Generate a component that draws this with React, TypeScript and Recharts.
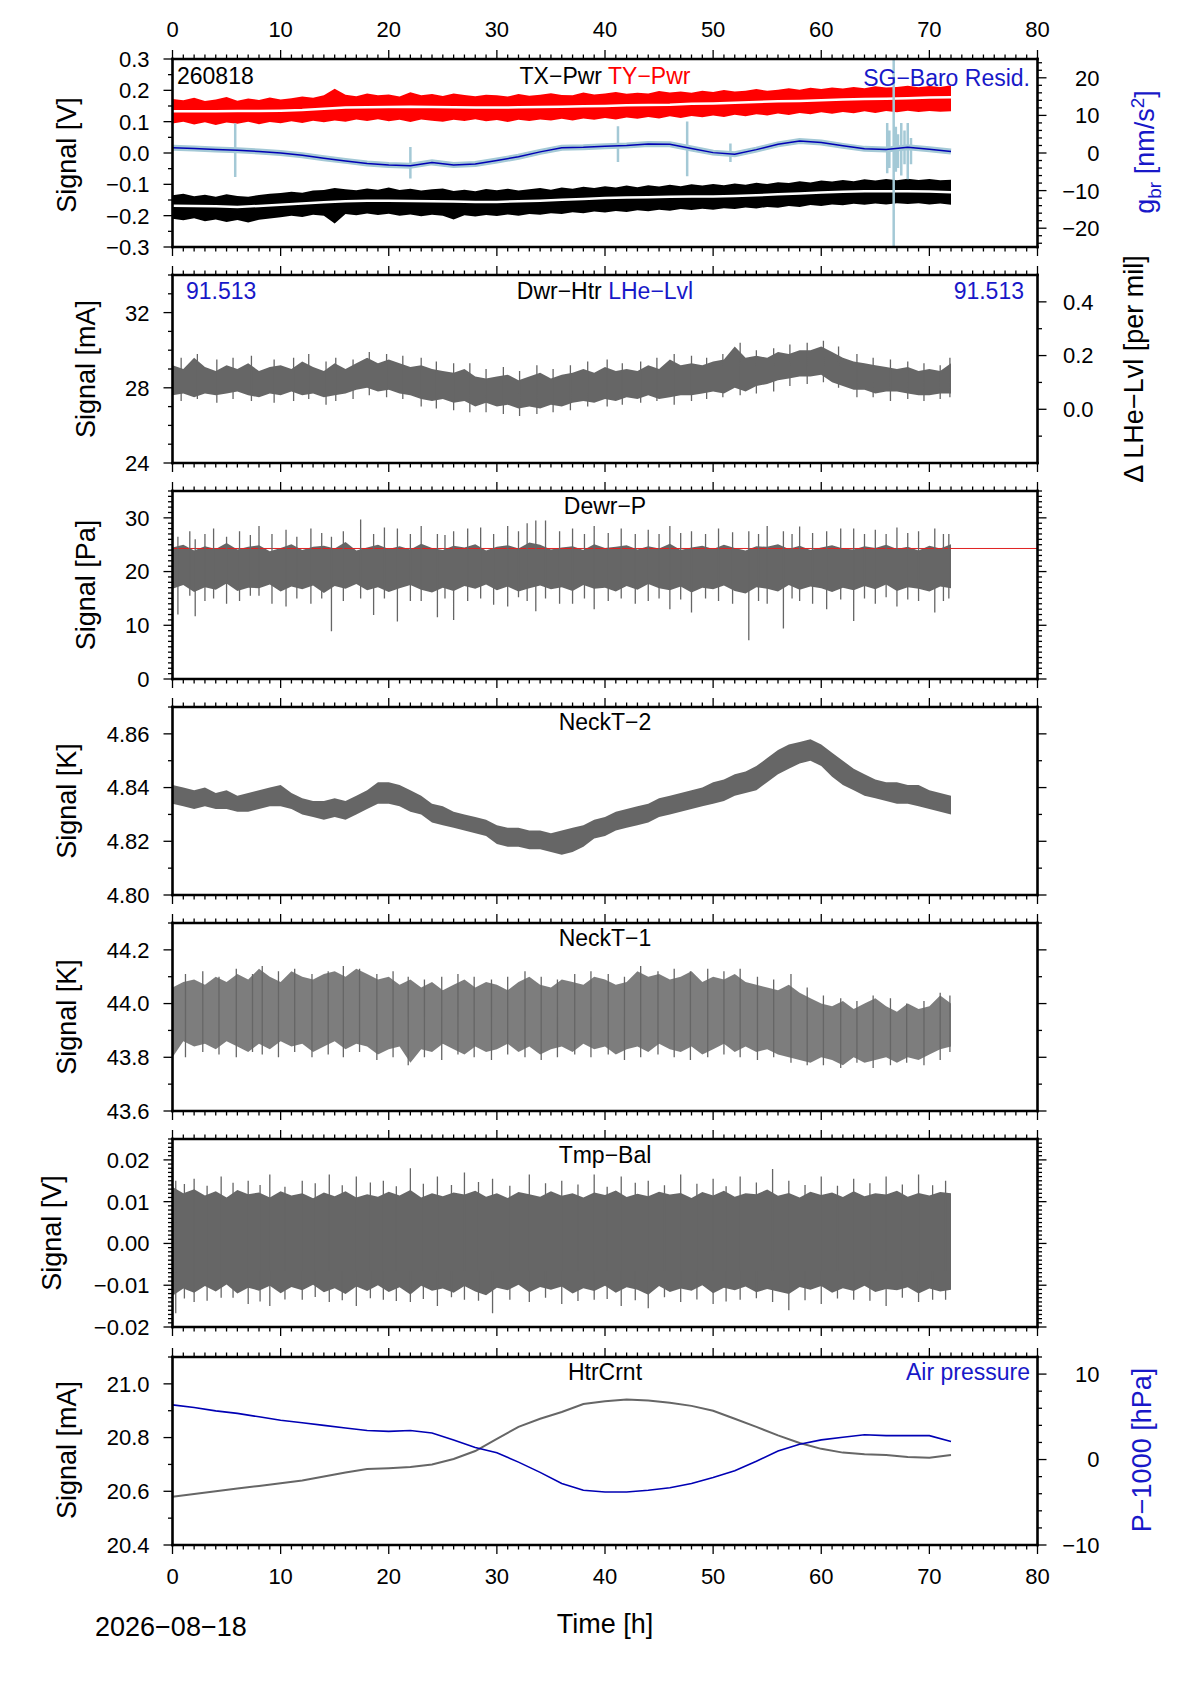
import React from 'react';
import { ComposedChart, Line, Area, XAxis, YAxis, ReferenceLine } from 'recharts';

const FONT = '"Liberation Sans", Arial, Helvetica, sans-serif';
const GRAY = '#666666';
const BLUE = '#0000b4';
const BLUE_TXT = '#1818c8';
const LIGHT_BLUE = '#a4c9d6';

// plot frame geometry (page pixels)
const PLOT_L = 172.5;
const PLOT_R = 1037.5;
const PANEL_H = 188;
const PANEL_TOPS = [59, 275, 491, 707, 923, 1139, 1356.7];

// sampling grid of the hourly / two-hourly series
const HOURS = Array.from({ length: 73 }, (_, i) => i);
const HOURS2 = Array.from({ length: 37 }, (_, i) => i * 2);

// ---- panel 1: TX-Pwr (black), TY-Pwr (red), SG-Baro residual (blue, right axis)
const tyPwrHi = [
  0.172, 0.168, 0.176, 0.166, 0.171, 0.179, 0.167, 0.174, 0.169, 0.177,
  0.171, 0.175, 0.18, 0.176, 0.184, 0.205, 0.186, 0.181, 0.19, 0.184,
  0.187, 0.18, 0.194, 0.184, 0.188, 0.182, 0.19, 0.185, 0.181, 0.186,
  0.184, 0.18, 0.188, 0.183, 0.186, 0.191, 0.185, 0.184, 0.193, 0.187,
  0.19, 0.195, 0.189, 0.192, 0.19, 0.198, 0.193, 0.196, 0.192, 0.199,
  0.195, 0.201, 0.196, 0.199, 0.204, 0.199, 0.202, 0.207, 0.202, 0.208,
  0.204, 0.209, 0.206, 0.211, 0.207, 0.213, 0.209, 0.211, 0.215, 0.21,
  0.214, 0.211, 0.216,
];
const tyPwrLo = [
  0.094, 0.1, 0.091, 0.098, 0.089, 0.097, 0.093, 0.1, 0.092, 0.099,
  0.095, 0.101, 0.096, 0.103, 0.098, 0.104, 0.1, 0.107, 0.102, 0.108,
  0.101, 0.106, 0.099, 0.107, 0.103, 0.1, 0.106, 0.102, 0.108, 0.101,
  0.105, 0.099, 0.106, 0.102, 0.107, 0.104, 0.109, 0.104, 0.11, 0.106,
  0.112, 0.107, 0.113, 0.109, 0.115, 0.11, 0.117, 0.112, 0.118, 0.114,
  0.12, 0.115, 0.122, 0.117, 0.124, 0.12, 0.126, 0.121, 0.128, 0.124,
  0.13, 0.125, 0.131, 0.127, 0.133, 0.128, 0.134, 0.13, 0.135, 0.131,
  0.134, 0.132, 0.133,
];
const tyPwrMean = [
  0.133, 0.133, 0.133, 0.134, 0.134, 0.135, 0.137, 0.141, 0.145, 0.146,
  0.147, 0.148, 0.147, 0.146, 0.145, 0.145, 0.146, 0.147, 0.148, 0.149,
  0.15, 0.152, 0.153, 0.154, 0.157, 0.158, 0.16, 0.163, 0.165, 0.166,
  0.168, 0.171, 0.172, 0.173, 0.175, 0.177, 0.178,
];
const txPwrHi = [
  -0.135, -0.13, -0.138, -0.133, -0.14, -0.132, -0.137, -0.14, -0.134, -0.13,
  -0.128, -0.124, -0.127, -0.12, -0.118, -0.112, -0.116, -0.119, -0.113, -0.117,
  -0.11, -0.118, -0.114, -0.12, -0.116, -0.113, -0.121, -0.117, -0.122, -0.115,
  -0.119, -0.114, -0.12, -0.116, -0.112, -0.117, -0.11, -0.114, -0.108, -0.112,
  -0.106, -0.11, -0.104, -0.109, -0.103, -0.107, -0.101, -0.106, -0.1, -0.104,
  -0.099, -0.103, -0.097, -0.101, -0.095, -0.099, -0.093, -0.096, -0.09, -0.094,
  -0.088, -0.091, -0.086, -0.09, -0.084, -0.088, -0.083, -0.087, -0.082, -0.086,
  -0.083, -0.087, -0.085,
];
const txPwrLo = [
  -0.21, -0.215, -0.208, -0.218, -0.212, -0.22, -0.214, -0.222, -0.213, -0.209,
  -0.205, -0.2, -0.204, -0.197, -0.2, -0.225, -0.195, -0.199, -0.193, -0.198,
  -0.194, -0.2, -0.196, -0.202, -0.197, -0.2, -0.212, -0.199, -0.203, -0.198,
  -0.201, -0.196, -0.2, -0.195, -0.197, -0.192, -0.195, -0.189, -0.192, -0.187,
  -0.19, -0.185, -0.188, -0.183, -0.186, -0.181, -0.184, -0.179, -0.182, -0.178,
  -0.181, -0.176, -0.179, -0.174, -0.177, -0.172, -0.175, -0.169, -0.172, -0.166,
  -0.169, -0.164, -0.167, -0.162, -0.165, -0.161, -0.164, -0.16, -0.163, -0.16,
  -0.164, -0.161, -0.165,
];
const txPwrMean = [
  -0.168, -0.169, -0.17, -0.172, -0.169, -0.165, -0.161, -0.157, -0.154, -0.152,
  -0.152, -0.153, -0.154, -0.155, -0.156, -0.156, -0.154, -0.152, -0.149, -0.147,
  -0.144, -0.142, -0.141, -0.14, -0.139, -0.139, -0.137, -0.135, -0.132, -0.129,
  -0.126, -0.124, -0.122, -0.122, -0.122, -0.123, -0.125,
];
const sgResid = [
  1.4, 1.2, 0.9, 0.7, 0.4, 0.0, -0.6, -1.4, -2.1, -2.8,
  -3.2, -3.4, -2.5, -3.2, -2.9, -2.0, -1.0, 0.3, 1.4, 1.5,
  1.8, 2.0, 2.4, 2.3, 1.2, 0.1, -0.3, 0.9, 2.3, 3.2,
  2.8, 1.9, 1.1, 0.9, 1.5, 1.0, 0.4,
];
const sgSpikeT = [5.8, 22, 41.2, 47.6, 51.6, 66.1, 66.3, 66.7, 66.9, 67.1, 67.4, 67.7, 68.0, 68.3];
const sgSpikeHi = [7.9, 1.6, 7.1, 8.4, 2.5, 8, 6, 26, 7, 5, 8, 6, 8, 4];
const sgSpikeLo = [-6.4, -6.8, -2.4, -6.2, -2.4, -5.4, -4, -26, -5, -4, -6, -3, -7, -3];

// ---- panel 2: Dwr-Htr
const dwrHtrHi = [
  29.2, 29.0, 29.6, 29.1, 28.9, 29.2, 29.0, 29.3, 28.9, 29.1,
  29.2, 29.0, 29.4, 29.1, 28.9, 29.3, 29.0, 29.3, 29.6, 29.3,
  29.5, 29.3, 29.1, 29.2, 29.0, 28.9, 28.8, 29.0, 28.6, 28.5,
  28.6, 28.7, 28.4, 28.6, 28.8, 28.5, 28.7, 28.8, 29.0, 28.8,
  29.1, 28.9, 29.0, 28.9, 29.2, 29.0, 29.5, 29.2, 29.3, 29.2,
  29.4, 29.5, 30.2, 29.6, 29.7, 29.6, 29.9, 29.8, 30.0, 30.0,
  30.2, 29.9, 29.6, 29.4, 29.3, 29.2, 29.1, 29.0, 29.1, 28.9,
  29.0, 28.9, 29.3,
];
const dwrHtrLo = [
  27.6, 27.7, 27.5, 27.7, 27.6, 27.7, 27.8, 27.6, 27.5, 27.7,
  27.6, 27.8, 27.6, 27.7, 27.5, 27.6, 27.7, 27.9, 28.0, 27.8,
  27.9, 27.7, 27.6, 27.4, 27.3, 27.4, 27.2, 27.3, 27.0, 27.2,
  27.0, 27.1, 26.9, 27.0, 26.9, 27.1, 27.0, 27.2, 27.3, 27.2,
  27.4, 27.3, 27.5, 27.4, 27.6, 27.4, 27.5, 27.6, 27.6, 27.7,
  27.8, 27.7, 28.0, 27.8, 28.1, 28.2, 28.4, 28.5, 28.6, 28.6,
  28.7, 28.3, 28.1, 27.9, 27.9, 27.7, 27.8, 27.8, 27.7, 27.6,
  27.6, 27.7, 27.7,
];
const dwrHtrSpikeT = [
  0.8, 2.3, 4.1, 5.6, 7.3, 9.4, 11.2, 12.6, 14.2, 15.1, 16.7, 18.2, 19.8, 21.3, 23.0, 24.4,
  26.0, 27.5, 29.0, 30.6, 32.1, 33.7, 35.2, 36.8, 38.4, 40.2, 41.6, 43.3, 44.8, 46.4,
  48.0, 49.4, 50.9, 52.5, 54.0, 55.6, 57.1, 58.7, 60.2, 61.6, 63.3, 64.8, 66.4, 68.0,
  69.5, 71.0, 71.9,
];
const dwrHtrSpikeHi = [
  29.6, 29.8, 29.5, 29.6, 29.7, 29.5, 29.6, 29.8, 29.4, 29.6, 29.5, 29.9, 29.8, 29.7, 29.6, 29.4,
  29.3, 29.3, 29.0, 29.1, 28.9, 29.2, 29.0, 29.2, 29.4, 29.5, 29.3, 29.4, 29.6, 29.8,
  29.7, 29.6, 29.8, 30.4, 30.0, 30.1, 30.3, 30.4, 30.5, 30.2, 29.8, 29.6, 29.5, 29.4,
  29.3, 29.2, 29.6,
];
const dwrHtrSpikeLo = [
  27.3, 27.4, 27.2, 27.4, 27.3, 27.2, 27.3, 27.4, 27.1, 27.3, 27.4, 27.6, 27.5, 27.4, 27.0, 26.9,
  26.8, 26.7, 26.7, 26.6, 26.5, 26.6, 26.7, 26.8, 27.0, 27.0, 27.1, 27.2, 27.3, 27.1,
  27.3, 27.4, 27.5, 27.6, 27.7, 27.8, 28.1, 28.2, 28.3, 28.0, 27.5, 27.5, 27.3, 27.4,
  27.3, 27.4, 27.5,
];

// ---- panel 3: Dewr-P
const dewrPLimit = 24.3;
const dewrPHi = [
  24.5, 25.0, 23.9, 24.7, 24.2, 25.3, 24.1, 24.6, 24.9, 23.8,
  24.4, 25.1, 24.0, 24.6, 24.8, 24.3, 25.5, 23.9, 24.5, 25.0,
  24.2, 24.7, 24.1, 25.2, 24.4, 24.0, 24.8, 24.5, 25.1, 23.9,
  24.6, 24.9, 24.3, 25.4, 25.0, 24.1, 24.5, 24.7, 24.0, 25.1,
  24.4, 24.6, 24.9, 24.1, 24.7, 24.3, 25.2, 24.0, 24.5, 24.8,
  24.2, 25.0, 24.4, 23.9, 24.7, 24.6, 25.1, 24.2, 24.8, 24.0,
  24.5, 24.9, 24.3, 24.1, 24.7, 24.4, 25.0, 24.2, 24.6, 23.9,
  24.8, 24.3, 25.1,
];
const dewrPLo = [
  16.8, 17.5, 16.2, 17.1, 16.6, 17.8, 16.4, 17.0, 16.9, 17.6,
  16.3, 17.2, 16.7, 17.4, 16.0, 17.3, 16.8, 17.7, 16.5, 17.1,
  16.2, 16.9, 17.5, 16.6, 16.1, 17.0, 16.4, 17.3, 16.8, 17.6,
  16.5, 17.2, 16.3, 16.9, 17.4, 16.7, 17.1, 16.4, 17.5, 16.8,
  17.0, 16.3, 17.3, 16.6, 17.7, 16.9, 16.5, 17.2, 16.1, 17.0,
  16.7, 17.4, 16.4, 15.9, 17.1, 16.8, 16.3, 17.5, 16.6, 17.2,
  16.9, 16.2, 17.0, 16.5, 17.3, 16.7, 17.6, 16.4, 17.1, 16.8,
  16.3, 17.2, 16.9,
];
const dewrPSpikeT = [
  0.5, 1.6, 2.1, 3.0, 3.8, 5.0, 6.2, 7.2, 8.0, 9.2, 10.5, 11.5, 12.8, 13.8, 14.7, 15.8,
  17.4, 18.6, 19.6, 20.8, 22.0, 23.0, 24.5, 25.2, 26.0, 27.3, 28.5, 29.7, 31.0, 32.0,
  32.8, 33.6, 34.5, 35.8, 37.0, 38.1, 39.0, 40.3, 41.5, 42.8, 44.0, 45.0, 46.0, 47.0,
  48.0, 49.3, 50.5, 51.8, 53.3, 54.2, 55.0, 56.5, 57.3, 58.0, 59.2, 60.5, 61.8, 63.0,
  64.0, 65.0, 66.0, 67.0, 68.0, 69.0, 70.5, 71.3, 71.8,
];
const dewrPSpikeHi = [
  26.5, 27.5, 26.0, 27.0, 28.0, 26.5, 27.5, 26.8, 28.5, 27.0, 27.8, 26.5, 28.0, 27.2, 26.5, 27.5,
  29.7, 27.0, 28.2, 28.0, 27.0, 28.5, 27.0, 26.8, 27.5, 28.0, 28.2, 27.0, 28.5, 27.5,
  29.0, 29.5, 29.5, 27.5, 28.0, 27.0, 28.5, 27.2, 28.0, 27.0, 27.8, 27.0, 28.5, 27.2,
  27.5, 27.0, 28.0, 27.3, 27.5, 27.0, 28.5, 27.5, 27.0, 28.4, 27.2, 27.5, 28.0, 28.0,
  27.0, 27.8, 27.0, 28.2, 27.2, 27.5, 28.0, 27.0, 27.0,
];
const dewrPSpikeLo = [
  12.0, 15.5, 11.7, 14.5, 15.0, 14.0, 14.5, 15.5, 15.5, 14.0, 13.5, 15.0, 14.0, 15.0, 8.9, 14.5,
  15.0, 11.9, 15.0, 10.7, 14.5, 14.5, 11.5, 15.0, 11.0, 14.5, 15.0, 13.8, 13.5, 15.2,
  14.5, 12.6, 15.0, 14.0, 14.0, 15.0, 13.0, 14.5, 15.0, 14.0, 14.5, 15.0, 13.0, 14.8,
  12.4, 15.0, 14.5, 14.0, 7.2, 14.5, 14.0, 9.4, 15.0, 14.5, 14.0, 13.0, 14.8, 10.8,
  15.0, 14.0, 15.2, 13.5, 14.8, 14.5, 12.4, 14.5, 15.0,
];

// ---- panel 4: NeckT-2
const neckT2Hi = [
  4.841, 4.840, 4.839, 4.840, 4.838, 4.839, 4.837, 4.838, 4.839, 4.840,
  4.841, 4.838, 4.836, 4.835, 4.835, 4.836, 4.835, 4.837, 4.839, 4.842,
  4.842, 4.841, 4.839, 4.837, 4.834, 4.833, 4.831, 4.830, 4.829, 4.828,
  4.826, 4.825, 4.825, 4.824, 4.824, 4.823, 4.824, 4.825, 4.826, 4.828,
  4.829, 4.831, 4.832, 4.833, 4.834, 4.836, 4.837, 4.838, 4.839, 4.840,
  4.842, 4.843, 4.845, 4.846, 4.848, 4.851, 4.854, 4.856, 4.857, 4.858,
  4.856, 4.853, 4.850, 4.847, 4.845, 4.843, 4.842, 4.842, 4.841, 4.841,
  4.839, 4.838, 4.837,
];
const neckT2Lo = [
  4.834, 4.833, 4.832, 4.833, 4.832, 4.832, 4.831, 4.831, 4.832, 4.833,
  4.833, 4.832, 4.830, 4.829, 4.828, 4.829, 4.828, 4.830, 4.832, 4.834,
  4.834, 4.833, 4.831, 4.830, 4.827, 4.826, 4.825, 4.824, 4.823, 4.822,
  4.819, 4.818, 4.818, 4.817, 4.817, 4.816, 4.815, 4.816, 4.818, 4.821,
  4.822, 4.824, 4.825, 4.826, 4.827, 4.829, 4.830, 4.831, 4.832, 4.833,
  4.834, 4.835, 4.837, 4.838, 4.839, 4.842, 4.845, 4.847, 4.849, 4.850,
  4.848, 4.844, 4.841, 4.839, 4.837, 4.836, 4.835, 4.834, 4.834, 4.833,
  4.832, 4.831, 4.830,
];

// ---- panel 5: NeckT-1
const neckT1Hi = [
  44.06, 44.08, 44.09, 44.07, 44.10, 44.08, 44.11, 44.09, 44.13, 44.10,
  44.08, 44.12, 44.10, 44.09, 44.11, 44.12, 44.10, 44.13, 44.11, 44.09,
  44.10, 44.07, 44.09, 44.06, 44.08, 44.05, 44.07, 44.09, 44.06, 44.08,
  44.07, 44.05, 44.08, 44.10, 44.07, 44.06, 44.09, 44.08, 44.07, 44.10,
  44.09, 44.07, 44.08, 44.12, 44.10, 44.11, 44.09, 44.10, 44.12, 44.08,
  44.10, 44.09, 44.11, 44.08, 44.07, 44.06, 44.05, 44.07, 44.04, 44.02,
  44.00, 43.99, 44.01, 43.98, 44.00, 44.02, 43.99, 43.97, 44.00, 43.98,
  43.99, 44.03, 44.00,
];
const neckT1Lo = [
  43.80, 43.86, 43.84, 43.85, 43.83, 43.86, 43.84, 43.82, 43.85, 43.83,
  43.86, 43.84, 43.85, 43.82, 43.84, 43.86, 43.83, 43.85, 43.84, 43.81,
  43.83, 43.84, 43.78, 43.83, 43.82, 43.85, 43.83, 43.81, 43.84, 43.82,
  43.83, 43.85, 43.82, 43.84, 43.81, 43.83, 43.84, 43.82, 43.85, 43.83,
  43.84, 43.81, 43.83, 43.84, 43.82, 43.85, 43.83, 43.82, 43.84, 43.81,
  43.83, 43.85, 43.82, 43.84, 43.82, 43.83, 43.81, 43.80, 43.79, 43.78,
  43.80, 43.79, 43.77, 43.80, 43.78, 43.79, 43.80, 43.78, 43.80, 43.79,
  43.81, 43.83, 43.84,
];
const neckT1SpikeT = [
  1.2, 2.8, 4.3, 5.9, 7.4, 8.3, 9.8, 11.3, 12.9, 14.4, 15.8, 17.3, 18.9, 20.4, 21.8, 23.3,
  24.9, 26.4, 27.9, 29.5, 31.0, 32.6, 34.1, 35.6, 37.2, 38.7, 40.3, 41.8, 43.3, 44.9,
  46.4, 47.9, 49.5, 51.0, 52.5, 54.1, 55.6, 57.2, 58.7, 60.2, 61.8, 63.3, 64.8, 66.4,
  67.9, 69.5, 71.0, 71.9,
];
const neckT1SpikeHi = [
  44.11, 44.12, 44.10, 44.13, 44.11, 44.14, 44.12, 44.13, 44.11, 44.12, 44.14, 44.13, 44.11, 44.12, 44.10, 44.09,
  44.10, 44.11, 44.10, 44.09, 44.10, 44.12, 44.10, 44.09, 44.11, 44.12, 44.11, 44.10, 44.14, 44.12,
  44.13, 44.12, 44.13, 44.12, 44.13, 44.10, 44.09, 44.11, 44.06, 44.03, 44.02, 44.01, 44.03, 44.02,
  44.00, 44.01, 44.04, 44.03,
];
const neckT1SpikeLo = [
  43.80, 43.82, 43.81, 43.80, 43.82, 43.81, 43.80, 43.82, 43.80, 43.81, 43.80, 43.82, 43.79, 43.80, 43.77, 43.80,
  43.79, 43.81, 43.80, 43.79, 43.81, 43.80, 43.79, 43.80, 43.81, 43.80, 43.81, 43.79, 43.80, 43.81,
  43.80, 43.79, 43.80, 43.81, 43.80, 43.79, 43.80, 43.78, 43.77, 43.77, 43.76, 43.78, 43.76, 43.77,
  43.78, 43.77, 43.79, 43.82,
];

// ---- panel 6: Tmp-Bal
const tmpBalHi = [
  0.0135, 0.012, 0.013, 0.0115, 0.0125, 0.011, 0.0128, 0.0118, 0.0122, 0.011,
  0.0125, 0.0115, 0.012, 0.0108, 0.0122, 0.0113, 0.0125, 0.011, 0.0118, 0.0112,
  0.0124, 0.0115, 0.0128, 0.011, 0.012, 0.0113, 0.0122, 0.0117, 0.0126, 0.0112,
  0.012, 0.0109, 0.0123, 0.0118, 0.0112, 0.0125, 0.0114, 0.012, 0.011, 0.0122,
  0.0116, 0.0127, 0.0111, 0.0119, 0.0113, 0.0124, 0.0117, 0.0121, 0.0109, 0.0123,
  0.0115, 0.0126, 0.0112, 0.012, 0.0118, 0.0129, 0.0114, 0.0121, 0.011, 0.0124,
  0.0116, 0.0122, 0.0111, 0.0125, 0.0113, 0.012, 0.0117, 0.0126, 0.0112, 0.0121,
  0.0115, 0.0123, 0.012,
];
const tmpBalLo = [
  -0.0125, -0.0108, -0.0118, -0.0102, -0.0115, -0.0098, -0.012, -0.0106, -0.0113, -0.0101,
  -0.0119, -0.0104, -0.0112, -0.0099, -0.0117, -0.0107, -0.0121, -0.0103, -0.0114, -0.01,
  -0.0116, -0.0105, -0.0122, -0.0101, -0.0113, -0.0108, -0.0118, -0.0102, -0.0115, -0.0124,
  -0.0106, -0.0112, -0.0099, -0.0117, -0.0104, -0.0111, -0.0103, -0.012, -0.0107, -0.0114,
  -0.0101, -0.0118, -0.0105, -0.0111, -0.0123, -0.0102, -0.0116, -0.0108, -0.0113, -0.01,
  -0.0119, -0.0106, -0.0112, -0.0103, -0.0117, -0.0109, -0.0115, -0.0121, -0.0104, -0.0111,
  -0.0102, -0.0118, -0.0107, -0.0114, -0.0101, -0.0116, -0.0109, -0.0112, -0.0105, -0.012,
  -0.0108, -0.0115, -0.0111,
];
const tmpBalSpikeT = [
  0.3, 2, 4.5, 7, 9, 12, 14.5, 17, 19.5, 22, 24.5, 27, 29.6, 33, 36, 39,
  41.5, 44, 47, 50, 52.5, 55.5, 57, 60, 63, 66, 69, 71.5,
  1.1, 3.2, 5.6, 8.1, 10.4, 13.2, 15.7, 18.3, 20.7, 23.2, 25.8, 28.3, 31.2, 34.5,
  37.5, 40.2, 42.8, 45.5, 48.5, 51.2, 54, 58.5, 61.5, 64.5, 67.5, 70.3,
];
const tmpBalSpikeHi = [
  0.015, 0.0155, 0.016, 0.015, 0.0165, 0.015, 0.0165, 0.016, 0.015, 0.018, 0.016, 0.017, 0.0155, 0.0165, 0.015, 0.0165,
  0.016, 0.015, 0.0165, 0.0155, 0.016, 0.0178, 0.015, 0.016, 0.0155, 0.016, 0.0165, 0.015,
  0.0142, 0.0138, 0.0145, 0.014, 0.0136, 0.0144, 0.0139, 0.0146, 0.0137, 0.0143, 0.014, 0.0147, 0.0138, 0.0144,
  0.0141, 0.0136, 0.0145, 0.0139, 0.0143, 0.0137, 0.0146, 0.014, 0.0138, 0.0144, 0.0141, 0.0139,
];
const tmpBalSpikeLo = [
  -0.0167, -0.014, -0.013, -0.0145, -0.015, -0.0135, -0.014, -0.015, -0.0135, -0.014, -0.015, -0.0135, -0.0167, -0.014, -0.0145, -0.0135,
  -0.015, -0.0155, -0.014, -0.0145, -0.0135, -0.014, -0.016, -0.0145, -0.0135, -0.015, -0.014, -0.0135,
  -0.0132, -0.0137, -0.013, -0.0139, -0.0134, -0.0128, -0.0136, -0.0131, -0.0138, -0.0133, -0.0129, -0.0137, -0.0135, -0.013,
  -0.0138, -0.0133, -0.0136, -0.0129, -0.0134, -0.0139, -0.0131, -0.0136, -0.0132, -0.0137, -0.013, -0.0135,
];

// ---- panel 7: HtrCrnt (gray) and air pressure (blue, right axis)
const htrCrnt = [
  20.58, 20.59, 20.60, 20.61, 20.62, 20.63, 20.64, 20.655, 20.67, 20.683,
  20.686, 20.69, 20.70, 20.72, 20.75, 20.795, 20.84, 20.87, 20.895, 20.925,
  20.935, 20.942, 20.938, 20.93, 20.918, 20.9, 20.87, 20.84, 20.808, 20.78,
  20.758, 20.744, 20.738, 20.735, 20.728, 20.725, 20.735,
];
const airPressure = [
  6.4, 6.1, 5.7, 5.4, 5.0, 4.6, 4.3, 4.0, 3.7, 3.4,
  3.3, 3.4, 3.1, 2.3, 1.4, 0.8, -0.3, -1.5, -2.8, -3.6,
  -3.8, -3.8, -3.6, -3.3, -2.8, -2.1, -1.3, -0.2, 1.0, 1.8,
  2.3, 2.6, 2.9, 2.8, 2.8, 2.8, 2.1,
];

const band = (lo: number[], hi: number[]) => HOURS.map((t, i) => ({ t, v: [lo[i], hi[i]] }));
const series = (ts: number[], vs: number[]) => ts.map((t, i) => ({ t, v: vs[i] }));
const spikes = (ts: number[], hi: number[], lo: number[]) =>
  ts.flatMap((t, i) => [{ t, v: hi[i] }, { t, v: lo[i] }, { t, v: null }]);

const range = (lo: number, hi: number, step: number) => {
  const out: number[] = [];
  const n = Math.round((hi - lo) / step);
  for (let i = 0; i <= n; i++) out.push(Math.round((lo + i * step) * 1e6) / 1e6);
  return out;
};
const fixed = (d: number) => (v: number) =>
  (Math.abs(v) < 1e-9 ? (0).toFixed(d) : v.toFixed(d)).replace('-', '\u2212');

const X_TICKS = range(0, 80, 1);

function Tick(props: any) {
  const { x, y, payload, side, major, fmt, off } = props;
  const v = payload.value as number;
  const isMajor = Math.abs(v / major - Math.round(v / major)) < 1e-6;
  const len = isMajor ? 9 : 4.5;
  let x2 = x;
  let y2 = y;
  if (side === 'left') x2 = x - len;
  else if (side === 'right') x2 = x + len;
  else if (side === 'top') y2 = y - len;
  else y2 = y + len;
  let label = null;
  if (fmt && isMajor) {
    const s = fmt(v);
    const common = { fontSize: 22, fontFamily: FONT, fill: '#000' };
    if (side === 'left') label = <text x={x - 23} y={y} dy="0.36em" textAnchor="end" {...common}>{s}</text>;
    else if (side === 'right') label = <text x={x + (off ?? 60)} y={y} dy="0.36em" textAnchor="end" {...common}>{s}</text>;
    else if (side === 'top') label = <text x={x} y={y - 22} textAnchor="middle" {...common}>{s}</text>;
    else label = <text x={x} y={y + 39} textAnchor="middle" {...common}>{s}</text>;
  }
  return (
    <g>
      <line x1={x} y1={y} x2={x2} y2={y2} stroke="#000" strokeWidth={1.3} />
      {label}
    </g>
  );
}

interface AxisCfg {
  domain: [number, number];
  ticks: number[];
  major: number;
  fmt?: (v: number) => string;
  off?: number;
}

const AXIS_LINE = { stroke: '#000', strokeWidth: 2.6, strokeLinecap: 'square' as const };

function Panel({ top, left, right, xTopLabels, xBottomLabels, children }: {
  top: number; left: AxisCfg; right?: AxisCfg; xTopLabels?: boolean; xBottomLabels?: boolean; children: React.ReactNode;
}) {
  const r = right ?? { ...left, fmt: undefined };
  return (
    <div style={{ position: 'absolute', left: 0, top: top - 60 }}>
      <ComposedChart width={1190} height={PANEL_H + 120}
        margin={{ top: 30, bottom: 30, left: PLOT_L - 50, right: 1190 - PLOT_R - 50 }}>
        <XAxis xAxisId="b" type="number" dataKey="t" domain={[0, 80]} ticks={X_TICKS} interval={0}
          orientation="bottom" height={30} tickSize={0} tickMargin={0} allowDataOverflow
          axisLine={AXIS_LINE} tickLine={false}
          tick={<Tick side="bottom" major={10} fmt={xBottomLabels ? fixed(0) : undefined} />} />
        <XAxis xAxisId="t" type="number" dataKey="t" domain={[0, 80]} ticks={X_TICKS} interval={0}
          orientation="top" height={30} tickSize={0} tickMargin={0} allowDataOverflow
          axisLine={AXIS_LINE} tickLine={false}
          tick={<Tick side="top" major={10} fmt={xTopLabels ? fixed(0) : undefined} />} />
        <YAxis yAxisId="l" type="number" domain={left.domain} ticks={left.ticks} interval={0}
          width={50} tickSize={0} tickMargin={0} allowDataOverflow axisLine={AXIS_LINE} tickLine={false}
          tick={<Tick side="left" major={left.major} fmt={left.fmt} />} />
        <YAxis yAxisId="r" orientation="right" type="number" domain={r.domain} ticks={r.ticks} interval={0}
          width={50} tickSize={0} tickMargin={0} allowDataOverflow axisLine={AXIS_LINE} tickLine={false}
          tick={<Tick side="right" major={r.major} fmt={r.fmt} off={r.off} />} />
        {children}
      </ComposedChart>
    </div>
  );
}

const bandArea = (data: any[], color: string, opacity = 1, yAxisId = 'l') => (
  <Area data={data} dataKey="v" xAxisId="b" yAxisId={yAxisId} type="linear" stroke="none"
    fill={color} fillOpacity={opacity} isAnimationActive={false} dot={false} activeDot={false} />
);
const lineSeries = (data: any[], color: string, width: number, yAxisId = 'l') => (
  <Line data={data} dataKey="v" xAxisId="b" yAxisId={yAxisId} type="linear" stroke={color}
    strokeWidth={width} dot={false} activeDot={false} isAnimationActive={false} />
);

function Titles() {
  const base = { fontFamily: FONT, fill: '#000' };
  const rot = (x: number, y: number) => `translate(${x},${y}) rotate(-90)`;
  const yTitles: [number, number, string][] = [
    [67, 155, 'Signal [V]'], [86, 369, 'Signal [mA]'], [86, 585, 'Signal [Pa]'],
    [67, 801, 'Signal [K]'], [67, 1017, 'Signal [K]'], [52, 1233, 'Signal [V]'], [67, 1450, 'Signal [mA]'],
  ];
  const titles: [number, string][] = [
    [514, 'Dewr\u2212P'], [730, 'NeckT\u22122'], [946, 'NeckT\u22121'], [1163, 'Tmp\u2212Bal'], [1380, 'HtrCrnt'],
  ];
  return (
    <svg width={1190} height={1684} style={{ position: 'absolute', left: 0, top: 0, pointerEvents: 'none' }}>
      <text x={177} y={84} fontSize={23} {...base}>260818</text>
      <text x={605} y={84} fontSize={23} textAnchor="middle" {...base}>
        TX{'\u2212'}Pwr <tspan fill="#ff0000">TY{'\u2212'}Pwr</tspan>
      </text>
      <text x={1030} y={86} fontSize={23} textAnchor="end" {...base} fill={BLUE_TXT}>SG{'\u2212'}Baro Resid.</text>
      <text x={186} y={299} fontSize={23} {...base} fill={BLUE_TXT}>91.513</text>
      <text x={1024} y={299} fontSize={23} textAnchor="end" {...base} fill={BLUE_TXT}>91.513</text>
      <text x={605} y={299} fontSize={23} textAnchor="middle" {...base}>
        Dwr{'\u2212'}Htr <tspan fill={BLUE_TXT}> LHe{'\u2212'}Lvl</tspan>
      </text>
      {titles.map(([y, s]) => (
        <text key={s} x={605} y={y} fontSize={23} textAnchor="middle" {...base}>{s}</text>
      ))}
      <text x={1030} y={1380} fontSize={23} textAnchor="end" {...base} fill={BLUE_TXT}>Air pressure</text>
      {yTitles.map(([x, y, s], i) => (
        <text key={i} transform={rot(x, y)} fontSize={27} textAnchor="middle" dy="0.35em" {...base}>{s}</text>
      ))}
      <text transform={rot(1145, 152)} fontSize={27} textAnchor="middle" dy="0.35em" {...base} fill={BLUE_TXT}>
        g<tspan fontSize={19} dy={7}>br</tspan><tspan dy={-7}> [nm/s</tspan><tspan fontSize={19} dy={-10}>2</tspan><tspan dy={10}>]</tspan>
      </text>
      <text transform={rot(1134, 369)} fontSize={27} textAnchor="middle" dy="0.35em" {...base}>
        {'\u0394'} LHe{'\u2212'}Lvl [per mil]
      </text>
      <text transform={rot(1142, 1450)} fontSize={27} textAnchor="middle" dy="0.35em" {...base} fill={BLUE_TXT}>
        P{'\u2212'}1000 [hPa]
      </text>
      <text x={605} y={1633} fontSize={27} textAnchor="middle" {...base}>Time [h]</text>
      <text x={95} y={1636} fontSize={27} {...base}>2026{'\u2212'}08{'\u2212'}18</text>
    </svg>
  );
}

export default function App() {
  return (
    <div style={{ position: 'absolute', left: 0, top: 0, width: 1190, height: 1684, background: '#fff' }}>
      <Panel top={PANEL_TOPS[0]} xTopLabels
        left={{ domain: [-0.3, 0.3], ticks: range(-0.3, 0.3, 0.05), major: 0.1, fmt: fixed(1) }}
        right={{ domain: [-25, 25], ticks: range(-24, 24, 2), major: 10, fmt: fixed(0), off: 62 }}>
        {bandArea(band(tyPwrLo, tyPwrHi), '#ff0000')}
        {lineSeries(series(HOURS2, tyPwrMean), '#ffffff', 2.5)}
        {bandArea(band(txPwrLo, txPwrHi), '#000000')}
        {lineSeries(series(HOURS2, txPwrMean), '#ffffff', 2.5)}
        {lineSeries(series(HOURS2, sgResid), LIGHT_BLUE, 6, 'r')}
        {lineSeries(spikes(sgSpikeT, sgSpikeHi, sgSpikeLo), LIGHT_BLUE, 2.5, 'r')}
        {lineSeries(series(HOURS2, sgResid), BLUE, 1.5, 'r')}
      </Panel>
      <Panel top={PANEL_TOPS[1]}
        left={{ domain: [24, 34], ticks: range(24, 34, 1), major: 4, fmt: fixed(0) }}
        right={{ domain: [-0.2, 0.5], ticks: range(-0.1, 0.4, 0.1), major: 0.2, fmt: fixed(1), off: 56 }}>
        {bandArea(band(dwrHtrLo, dwrHtrHi), GRAY)}
        {lineSeries(spikes(dwrHtrSpikeT, dwrHtrSpikeHi, dwrHtrSpikeLo), GRAY, 1.3)}
      </Panel>
      <Panel top={PANEL_TOPS[2]}
        left={{ domain: [0, 35], ticks: range(0, 35, 1), major: 10, fmt: fixed(0) }}>
        <ReferenceLine y={dewrPLimit} xAxisId="b" yAxisId="l" stroke="#e02020" strokeWidth={1} />
        {bandArea(band(dewrPLo, dewrPHi), GRAY)}
        {lineSeries(spikes(dewrPSpikeT, dewrPSpikeHi, dewrPSpikeLo), GRAY, 1.3)}
      </Panel>
      <Panel top={PANEL_TOPS[3]}
        left={{ domain: [4.8, 4.87], ticks: range(4.8, 4.87, 0.01), major: 0.02, fmt: fixed(2) }}>
        {bandArea(band(neckT2Lo, neckT2Hi), GRAY)}
      </Panel>
      <Panel top={PANEL_TOPS[4]}
        left={{ domain: [43.6, 44.3], ticks: range(43.6, 44.3, 0.1), major: 0.2, fmt: fixed(1) }}>
        {bandArea(band(neckT1Lo, neckT1Hi), GRAY, 0.85)}
        {lineSeries(spikes(neckT1SpikeT, neckT1SpikeHi, neckT1SpikeLo), GRAY, 1.3)}
      </Panel>
      <Panel top={PANEL_TOPS[5]}
        left={{ domain: [-0.02, 0.025], ticks: range(-0.02, 0.025, 0.001), major: 0.01, fmt: fixed(2) }}>
        {bandArea(band(tmpBalLo, tmpBalHi), GRAY)}
        {lineSeries(spikes(tmpBalSpikeT, tmpBalSpikeHi, tmpBalSpikeLo), GRAY, 1.3)}
      </Panel>
      <Panel top={PANEL_TOPS[6]} xBottomLabels
        left={{ domain: [20.4, 21.1], ticks: range(20.4, 21.1, 0.1), major: 0.2, fmt: fixed(1) }}
        right={{ domain: [-10, 12], ticks: range(-10, 12, 2), major: 10, fmt: fixed(0), off: 62 }}>
        {lineSeries(series(HOURS2, htrCrnt), GRAY, 2)}
        {lineSeries(series(HOURS2, airPressure), BLUE, 1.6, 'r')}
      </Panel>
      <Titles />
    </div>
  );
}
